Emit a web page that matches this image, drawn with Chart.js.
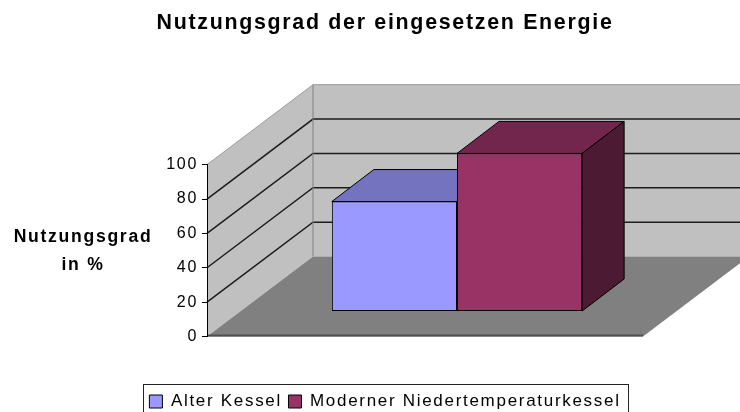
<!DOCTYPE html>
<html>
<head>
<meta charset="utf-8">
<title>Nutzungsgrad</title>
<script src="https://cdn.jsdelivr.net/npm/chart.js@4"></script>
<style>
  html, body { margin: 0; padding: 0; background: #fff; }
  #wrap { width: 740px; height: 412px; overflow: hidden; }
</style>
</head>
<body>
<div id="wrap"><canvas id="chart" width="740" height="412"></canvas></div>
<script>
const categories = [''];
const seriesNames = ['Alter Kessel', 'Moderner Niedertemperaturkessel'];
const alterKessel = [64];
const modernerKessel = [92];
const axisMax = 100;
const axisStep = 20;
const chartTitle = 'Nutzungsgrad der eingesetzen Energie';
const axisTitle = ['Nutzungsgrad', 'in %'];

// fake 3d look: how far the back wall sits from the front edge
const wallDX = 106, wallDY = 80;
// bars stand a bit behind the front edge and have their own depth
const barShiftX = 32, barShiftY = 25;
const barDX = 42, barDY = 32;

const font = 'Liberation Sans, Arial, sans-serif';

function poly(ctx, pts, fill, stroke, width) {
  ctx.beginPath();
  pts.forEach((p, i) => i ? ctx.lineTo(p[0], p[1]) : ctx.moveTo(p[0], p[1]));
  ctx.closePath();
  ctx.fillStyle = fill;
  ctx.fill();
  if (stroke) {
    ctx.lineWidth = width || 1;
    ctx.strokeStyle = stroke;
    ctx.stroke();
  }
}

const scene3d = {
  id: 'scene3d',
  beforeLayout(chart) {
    // the original text is stretched wide, so all text gets some tracking
    chart.ctx.letterSpacing = '1.7px';
  },
  beforeDraw(chart) {
    const { ctx, chartArea: a, scales: { y } } = chart;
    const backL = a.left + wallDX;
    const backR = a.right + wallDX;
    const backT = a.top - wallDY;
    const backB = a.bottom - wallDY;

    ctx.save();
    // back wall, side wall, floor
    poly(ctx, [[backL, backT], [backR, backT], [backR, backB], [backL, backB]], '#c0c0c0');
    poly(ctx, [[a.left, a.top], [backL, backT], [backL, backB], [a.left, a.bottom]], '#c0c0c0');
    poly(ctx, [[a.left, a.bottom], [a.right, a.bottom], [backR, backB], [backL, backB]], '#808080');

    // gridlines follow the side wall and then the back wall
    y.ticks.forEach(t => {
      if (t.value === 0) return;
      const py = y.getPixelForValue(t.value);
      ctx.beginPath();
      ctx.moveTo(a.left, py);
      ctx.lineTo(backL, py - wallDY);
      ctx.lineTo(backR, py - wallDY);
      ctx.strokeStyle = t.value === axisMax ? '#9a9a9a' : '#1c1c1c';
      ctx.lineWidth = t.value === axisMax ? 1 : 1.5;
      ctx.stroke();
    });

    // wall corner and floor front edge
    ctx.beginPath();
    ctx.moveTo(backL, backT);
    ctx.lineTo(backL, backB);
    ctx.strokeStyle = '#808080';
    ctx.lineWidth = 1;
    ctx.stroke();
    ctx.beginPath();
    ctx.moveTo(a.left, a.bottom - 1);
    ctx.lineTo(a.right, a.bottom - 1);
    ctx.strokeStyle = '#505050';
    ctx.lineWidth = 2;
    ctx.stroke();
    ctx.restore();
  },
  beforeDatasetsDraw(chart) {
    const { ctx } = chart;
    ctx.save();
    ctx.translate(barShiftX, -barShiftY);
    chart.data.datasets.forEach((ds, i) => {
      chart.getDatasetMeta(i).data.forEach(bar => {
        const l = bar.x - bar.width / 2;
        const r = bar.x + bar.width / 2;
        poly(ctx, [[l, bar.y], [l + barDX, bar.y - barDY], [r + barDX, bar.y - barDY], [r, bar.y]], ds.topColor, '#000');
        poly(ctx, [[r, bar.y], [r + barDX, bar.y - barDY], [r + barDX, bar.base - barDY], [r, bar.base]], ds.sideColor, '#000');
      });
    });
    // front faces get drawn by chart.js inside this shifted context
  },
  afterDatasetsDraw(chart) {
    chart.ctx.restore();
  },
  afterDraw(chart) {
    const { ctx, chartArea: a } = chart;
    const boxes = chart.legend.legendHitBoxes;
    const first = boxes[0];
    const last = boxes[boxes.length - 1];

    ctx.save();
    // frame around the legend, runs off the bottom like in the original
    const frameL = Math.round(first.left - 6) + 0.5;
    const frameR = Math.round(last.left + last.width + 7) + 0.5;
    ctx.strokeStyle = '#222';
    ctx.lineWidth = 1;
    ctx.strokeRect(frameL, 384.5, frameR - frameL, 32);

    // horizontal axis title, chart.js would only rotate it
    ctx.fillStyle = '#000';
    ctx.font = 'bold 17.6px ' + font;
    ctx.textAlign = 'center';
    ctx.textBaseline = 'middle';
    axisTitle.forEach((line, i) => ctx.fillText(line, 83, a.top + 72 + i * 28));
    ctx.restore();
  }
};

new Chart(document.getElementById('chart'), {
  type: 'bar',
  data: {
    labels: categories,
    datasets: [
      {
        label: seriesNames[0],
        data: alterKessel,
        backgroundColor: '#9999ff',
        topColor: '#7373bf',
        sideColor: '#4d4d80',
        borderColor: '#000',
        borderWidth: 1,
        borderSkipped: false
      },
      {
        label: seriesNames[1],
        data: modernerKessel,
        backgroundColor: '#993366',
        topColor: '#73264d',
        sideColor: '#4d1a33',
        borderColor: '#000',
        borderWidth: 1,
        borderSkipped: false
      }
    ]
  },
  plugins: [scene3d],
  options: {
    responsive: false,
    animation: false,
    layout: { padding: { left: 127, right: 97, top: 0, bottom: -8 } },
    datasets: { bar: { categoryPercentage: 0.574, barPercentage: 1 } },
    scales: {
      x: {
        ticks: { display: false },
        grid: { display: false },
        border: { display: false },
        afterFit(scale) { scale.height = 50; }
      },
      y: {
        min: 0,
        max: axisMax,
        afterFit(scale) { scale.width = 80; },
        ticks: {
          stepSize: axisStep,
          padding: 4,
          color: '#000',
          font: { family: font, size: 16 }
        },
        grid: { drawOnChartArea: false, drawTicks: true, tickLength: 5, color: '#000' },
        border: { display: true, color: '#000' }
      }
    },
    plugins: {
      tooltip: { enabled: false },
      title: {
        display: true,
        text: chartTitle,
        color: '#000',
        font: { family: font, size: 21.4, weight: 'bold' },
        padding: { top: 10, bottom: 129 }
      },
      legend: {
        position: 'bottom',
        labels: {
          color: '#000',
          boxWidth: 13,
          boxHeight: 13,
          padding: 6.5,
          font: { family: font, size: 17 }
        }
      }
    }
  }
});
</script>
</body>
</html>
